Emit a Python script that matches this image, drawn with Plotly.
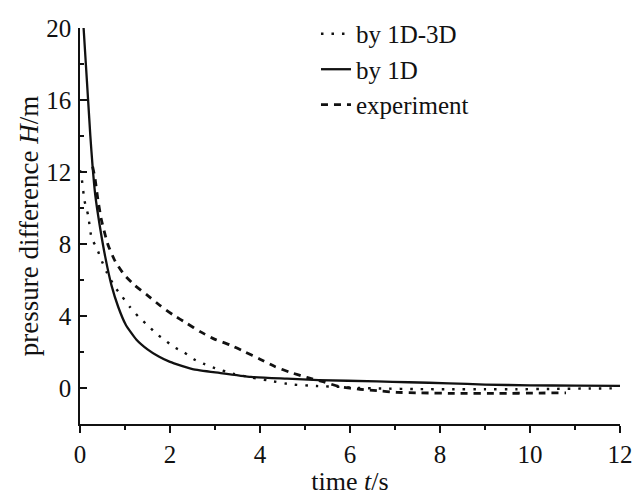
import plotly.graph_objects as go

# ---- data ----
t_1d3d = [0.0, 0.04, 0.10, 0.18, 0.26, 0.37, 0.46, 0.60, 0.78, 0.93, 1.11, 1.30, 1.52,
          1.70, 1.87, 2.07, 2.30, 2.53, 2.74, 3.00, 3.40, 3.80, 4.20, 4.70, 5.26, 5.78,
          6.20, 6.74, 7.50, 8.20, 9.00, 9.70, 10.50, 11.20, 12.00]
H_1d3d = [12.1, 11.6, 10.4, 9.6, 8.3, 7.8, 7.2, 6.4, 5.6, 5.1, 4.5, 3.95, 3.45,
          3.0, 2.7, 2.3, 2.0, 1.6, 1.35, 1.1, 0.8, 0.58, 0.41, 0.2, 0.11, 0.06,
          0.0, -0.03, -0.06, -0.07, -0.07, -0.07, -0.05, -0.03, -0.02]

t_1d = [0.08, 0.13, 0.18, 0.23, 0.28, 0.34, 0.44, 0.56, 0.70, 0.85, 1.02, 1.25, 1.50,
        1.75, 2.00, 2.50, 3.10, 3.80, 4.60, 5.30, 6.60, 7.30, 8.20, 9.00, 10.00, 11.00, 12.00]
H_1d = [20.0, 18.0, 16.0, 14.0, 12.3, 10.7, 9.0, 7.3, 5.7, 4.5, 3.5, 2.7, 2.15,
        1.75, 1.45, 1.05, 0.84, 0.62, 0.52, 0.44, 0.37, 0.32, 0.26, 0.19, 0.15, 0.13, 0.12]

t_exp = [0.28, 0.33, 0.39, 0.47, 0.56, 0.63, 0.78, 0.98, 1.22, 1.50, 1.79, 2.07, 2.37,
         2.67, 3.00, 3.33, 3.67, 4.00, 4.33, 4.67, 5.04, 5.40, 5.78, 6.22, 6.60, 7.04,
         7.56, 8.40, 9.30, 10.20, 10.80]
H_exp = [12.3, 11.7, 10.6, 9.4, 8.5, 7.9, 7.05, 6.3, 5.7, 5.15, 4.56, 4.06, 3.6,
         3.13, 2.7, 2.4, 2.0, 1.6, 1.19, 0.87, 0.59, 0.35, 0.07, -0.07, -0.15, -0.24,
         -0.27, -0.3, -0.3, -0.28, -0.27]

names = ["by 1D-3D", "by 1D", "experiment"]
x_ticks = [0, 2, 4, 6, 8, 10, 12]
y_ticks = [0, 4, 8, 12, 16, 20]

FONT = "Liberation Serif"
INK = "#111111"
FS = 25

fig = go.Figure()
fig.add_trace(go.Scatter(x=t_1d3d, y=H_1d3d, mode="lines", name=names[0],
                         line=dict(color=INK, width=2.4, dash="2.5px,8px", shape="spline", smoothing=0.5)))
fig.add_trace(go.Scatter(x=t_1d, y=H_1d, mode="lines", name=names[1],
                         line=dict(color=INK, width=2.3, shape="spline", smoothing=0.5)))
fig.add_trace(go.Scatter(x=t_exp, y=H_exp, mode="lines", name=names[2],
                         line=dict(color=INK, width=2.8, dash="7px,6px", shape="spline", smoothing=0.5)))

fig.update_layout(
    width=643, height=496,
    margin=dict(l=80, r=23, t=28, b=72, autoexpand=False),
    paper_bgcolor="white", plot_bgcolor="white",
    font=dict(family=FONT, size=FS, color=INK),
    showlegend=True,
    legend=dict(x=0.437, y=1.043, xanchor="left", yanchor="top",
                bgcolor="rgba(0,0,0,0)", borderwidth=0,
                font=dict(family=FONT, size=FS, color=INK), tracegroupgap=0),
)
fig.update_xaxes(
    range=[0, 12], tickvals=x_ticks, ticktext=[str(v) for v in x_ticks],
    automargin=False,
    showgrid=False, zeroline=False,
    showline=True, linecolor=INK, linewidth=1.5,
    ticks="outside", ticklen=7, tickwidth=1.5, tickcolor=INK,
    minor=dict(dtick=1, ticks="outside", ticklen=4, tickwidth=1.5, tickcolor=INK),
    tickfont=dict(family=FONT, size=FS, color=INK),
    title=dict(text="time <i>t</i>/s", font=dict(family=FONT, size=26, color=INK), standoff=2),
)
fig.update_yaxes(
    range=[-2, 20], tickvals=y_ticks, ticktext=[str(v) for v in y_ticks],
    automargin=False,
    showgrid=False, zeroline=False,
    showline=True, linecolor=INK, linewidth=1.5,
    ticks="inside", ticklen=7, tickwidth=1.5, tickcolor=INK,
    minor=dict(dtick=2, tick0=0, ticks="inside", ticklen=4, tickwidth=1.5, tickcolor=INK),
    ticklabelstandoff=2,
    tickfont=dict(family=FONT, size=FS, color=INK),
    title=dict(text="pressure difference <i>H</i>/m", font=dict(family=FONT, size=27, color=INK), standoff=0),
)

fig.write_html("out.html")
